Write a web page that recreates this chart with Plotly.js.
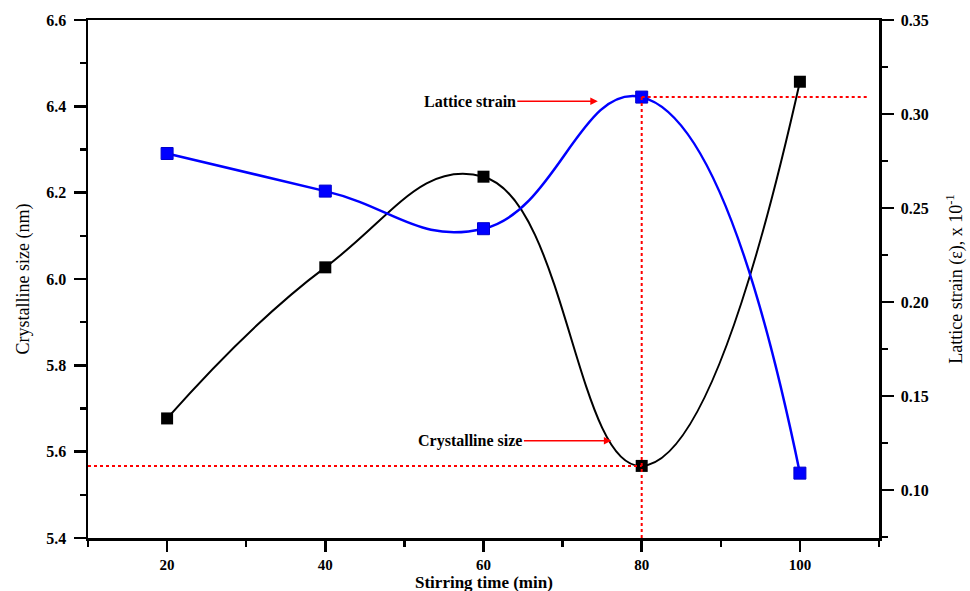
<!DOCTYPE html>
<html>
<head>
<meta charset="utf-8">
<script src="https://cdn.plot.ly/plotly-3.0.1.min.js"></script>
<style>html,body{margin:0;padding:0;background:#fff;}#chart{width:970px;height:591px;}</style>
</head>
<body>
<div id="chart"></div>
<script>
const stirringTime = [20, 40, 60, 80, 100];
const crystallineSize = [5.677, 6.027, 6.237, 5.567, 6.457];
const latticeStrain = [0.279, 0.259, 0.239, 0.309, 0.109];
const xTickVals = [20, 40, 60, 80, 100];
const leftTickVals = [5.4, 5.6, 5.8, 6.0, 6.2, 6.4, 6.6];
const rightTickVals = [0.10, 0.15, 0.20, 0.25, 0.30, 0.35];
const xAxisTitle = 'Stirring time (min)';

const serif = "Liberation Serif, Times New Roman, serif";
const guideX = stirringTime[3];
const guideSize = crystallineSize[3];
const guideStrain = latticeStrain[3];

const traces = [
  {
    x: stirringTime, y: crystallineSize, type: 'scatter', mode: 'lines+markers',
    name: 'Crystalline size',
    line: {color: '#000000', width: 2, shape: 'spline', smoothing: 1.3},
    marker: {symbol: 'square', size: 12, color: '#000000'},
    yaxis: 'y', hoverinfo: 'x+y'
  },
  {
    x: stirringTime, y: latticeStrain, type: 'scatter', mode: 'lines+markers',
    name: 'Lattice strain',
    line: {color: '#0000ff', width: 2.5, shape: 'spline', smoothing: 1.3},
    marker: {symbol: 'square', size: 12, color: '#0000ff', line: {color: '#0000cc', width: 1}},
    yaxis: 'y2', hoverinfo: 'x+y'
  },
  {
    x: [10, guideX], y: [guideSize, guideSize], type: 'scatter', mode: 'lines',
    line: {color: '#ff0000', width: 2, dash: 'dot'}, yaxis: 'y', hoverinfo: 'skip'
  },
  {
    x: [guideX, 108.6], y: [guideStrain, guideStrain], type: 'scatter', mode: 'lines',
    line: {color: '#ff0000', width: 2, dash: 'dot'}, yaxis: 'y2', hoverinfo: 'skip'
  },
  {
    x: [guideX, guideX], y: [0.0745, guideStrain], type: 'scatter', mode: 'lines',
    line: {color: '#ff0000', width: 2, dash: 'dot'}, yaxis: 'y2', hoverinfo: 'skip'
  }
];

const tickFont = {family: serif, size: 16, color: '#000', weight: 'bold'};

const layout = {
  width: 970, height: 591,
  margin: {l: 88, r: 91, t: 20, b: 53},
  paper_bgcolor: '#ffffff', plot_bgcolor: '#ffffff',
  showlegend: false,
  xaxis: {
    range: [10, 110], tickvals: xTickVals, ticktext: xTickVals.map(String),
    ticks: 'outside', ticklen: 11, tickwidth: 2.5, tickcolor: '#000',
    minor: {tickvals: [10, 30, 50, 70, 90, 110], ticks: 'outside', ticklen: 6, tickwidth: 2.5, tickcolor: '#000'},
    showline: true, linewidth: 2.5, linecolor: '#000', mirror: true,
    showgrid: false, zeroline: false,
    tickfont: {family: serif, size: 15, color: '#000', weight: 'bold'}
  },
  yaxis: {
    range: [5.4, 6.6], tickvals: leftTickVals, ticktext: leftTickVals.map(v => v.toFixed(1)),
    ticks: 'outside', ticklen: 12, tickwidth: 2.5, tickcolor: '#000', ticklabelstandoff: 4,
    minor: {dtick: 0.1, ticks: 'outside', ticklen: 6, tickwidth: 2.5, tickcolor: '#000'},
    showline: true, linewidth: 2.5, linecolor: '#000',
    showgrid: false, zeroline: false, tickfont: tickFont,
    title: {text: 'Crystalline size (nm)', font: {family: serif, size: 18, color: '#000'}, standoff: 12}
  },
  yaxis2: {
    overlaying: 'y', side: 'right',
    range: [0.0745, 0.35], tickvals: rightTickVals, ticktext: rightTickVals.map(v => v.toFixed(2)),
    ticks: 'outside', ticklen: 12, tickwidth: 2.5, tickcolor: '#000', ticklabelstandoff: 4,
    minor: {tickvals: [0.075, 0.125, 0.175, 0.225, 0.275, 0.325], ticks: 'outside', ticklen: 6, tickwidth: 2.5, tickcolor: '#000'},
    showline: true, linewidth: 2.5, linecolor: '#000',
    showgrid: false, zeroline: false, tickfont: tickFont,
    title: {text: 'Lattice strain (ε), x 10<sup>-1</sup>', font: {family: serif, size: 18, color: '#000'}, standoff: 22}
  },
  annotations: [
    {
      x: 0.5, y: -0.086, xref: 'paper', yref: 'paper', xanchor: 'center', yanchor: 'middle',
      text: xAxisTitle, showarrow: false,
      font: {family: serif, size: 17, color: '#000', weight: 'bold'}
    },
    {
      x: 74.45, y: 6.412, xref: 'x', yref: 'y',
      text: 'Lattice strain', showarrow: true, ax: -128, ay: 0,
      arrowhead: 2, arrowsize: 1, arrowwidth: 1.5, arrowcolor: '#ff0000',
      font: {family: serif, size: 16, color: '#000', weight: 'bold'}
    },
    {
      x: 76.17, y: 5.6255, xref: 'x', yref: 'y',
      text: 'Crystalline size', showarrow: true, ax: -141, ay: 0,
      arrowhead: 2, arrowsize: 1, arrowwidth: 1.5, arrowcolor: '#ff0000',
      font: {family: serif, size: 16, color: '#000', weight: 'bold'}
    }
  ]
};

Plotly.newPlot('chart', traces, layout, {displayModeBar: false, staticPlot: true});
</script>
</body>
</html>
